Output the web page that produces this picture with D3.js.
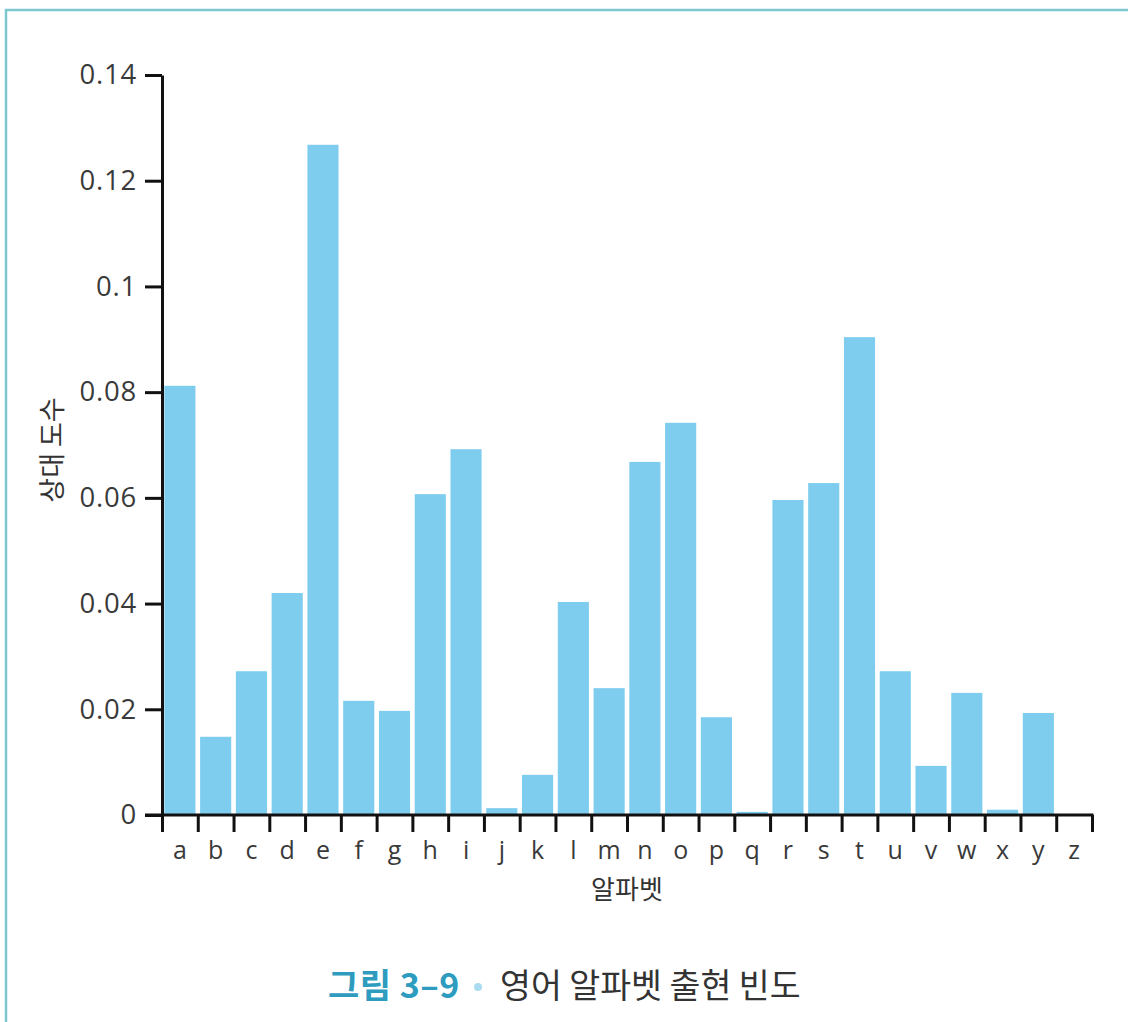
<!DOCTYPE html>
<html><head><meta charset="utf-8">
<script src="https://cdn.jsdelivr.net/npm/d3@7"></script>
<style>
html,body{margin:0;padding:0;background:#fff;}
svg{display:block;}
</style></head>
<body>
<svg id="c" width="1128" height="1022"></svg>
<script>
const letters = ["a","b","c","d","e","f","g","h","i","j","k","l","m","n","o","p","q","r","s","t","u","v","w","x","y","z"];
const freqs = [0.0812,0.0148,0.0272,0.0420,0.1268,0.0216,0.0197,0.0607,0.0692,0.0013,0.0076,0.0403,0.0240,0.0668,0.0742,0.0185,0.0006,0.0596,0.0628,0.0904,0.0272,0.0093,0.0231,0.0010,0.0193,0.0000];
const yTicks = [0,0.02,0.04,0.06,0.08,0.1,0.12,0.14];
const yTickLabels = ["0","0.02","0.04","0.06","0.08","0.1","0.12","0.14"];
const xTitle = "알파벳";
const yTitle = "상대 도수";
const captionA = "그림 3–9";
const captionB = "영어 알파벳 출현 빈도";

const svg = d3.select("#c");
// frame
svg.append("path").attr("d","M6,1022 V10 H1128").attr("fill","none").attr("stroke","#7cc8cd").attr("stroke-width",2.5);

const x0 = 162, x1 = 1092, yBase = 815, yTop = 75;
const x = d3.scaleBand().domain(letters).range([x0, x1]).paddingInner(0.13).paddingOuter(0.065);
const xb = d3.scaleLinear().domain([0, letters.length]).range([x0, x1]);
const y = d3.scaleLinear().domain([0, 0.14]).range([yBase, yTop]);

// bars
svg.append("g").selectAll("rect").data(letters).join("rect")
  .attr("x", d => x(d))
  .attr("width", x.bandwidth())
  .attr("y", (d,i) => y(freqs[i]))
  .attr("height", (d,i) => yBase - y(freqs[i]))
  .attr("fill", "#7ecdef");

const font = "'Open Sans','Noto Sans CJK KR',sans-serif";

// y axis
const yAxis = svg.append("g").attr("transform", `translate(${x0},0)`)
  .call(d3.axisLeft(y).tickValues(yTicks).tickFormat((d,i)=>yTickLabels[i]).tickSize(17).tickSizeOuter(0).tickPadding(8));
yAxis.select(".domain").attr("stroke","#111").attr("stroke-width",3);
yAxis.selectAll(".tick line").attr("stroke","#111").attr("stroke-width",3);
yAxis.selectAll(".tick text").attr("font-family",font).attr("font-size",27.5).attr("fill","#3a3a3a").attr("letter-spacing","0.8px");

// x axis boundary ticks
const xTickAxis = svg.append("g").attr("transform", `translate(0,${yBase})`)
  .call(d3.axisBottom(xb).tickValues(d3.range(letters.length+1)).tickFormat("").tickSize(17).tickSizeOuter(0));
xTickAxis.select(".domain").remove();
xTickAxis.selectAll(".tick line").attr("stroke","#111").attr("stroke-width",3);
// domain line across
svg.append("line").attr("x1", x0-17).attr("x2", x1+1.5).attr("y1", yBase).attr("y2", yBase)
  .attr("stroke","#111").attr("stroke-width",3);

// x labels
const xAxis = svg.append("g").attr("transform", `translate(0,${yBase})`)
  .call(d3.axisBottom(x).tickSize(0).tickPadding(26));
xAxis.select(".domain").remove();
xAxis.selectAll(".tick text").attr("font-family",font).attr("font-size",25).attr("fill","#3a3a3a");

// titles
svg.append("text").attr("x", (x0+x1)/2).attr("y", 899).attr("text-anchor","middle")
  .attr("font-family","'Noto Sans CJK KR',sans-serif").attr("font-size",26).attr("fill","#333").text(xTitle);
svg.append("text").attr("transform","translate(62,450) rotate(-90)").attr("text-anchor","middle")
  .attr("font-family","'Noto Sans CJK KR',sans-serif").attr("font-size",27).attr("fill","#333").text(yTitle);

// caption
svg.append("text").attr("x", 328).attr("y", 998)
  .attr("font-family","'Noto Sans CJK KR',sans-serif").attr("font-weight","bold").attr("font-size",34).attr("letter-spacing","0.5px").attr("fill","#2e9cbf").text(captionA);
svg.append("circle").attr("cx", 478).attr("cy", 987).attr("r", 4).attr("fill","#a9dcef");
svg.append("text").attr("x", 500).attr("y", 998)
  .attr("font-family","'Noto Sans CJK KR',sans-serif").attr("font-size",33.6).attr("fill","#333").text(captionB);
</script>
</body></html>
